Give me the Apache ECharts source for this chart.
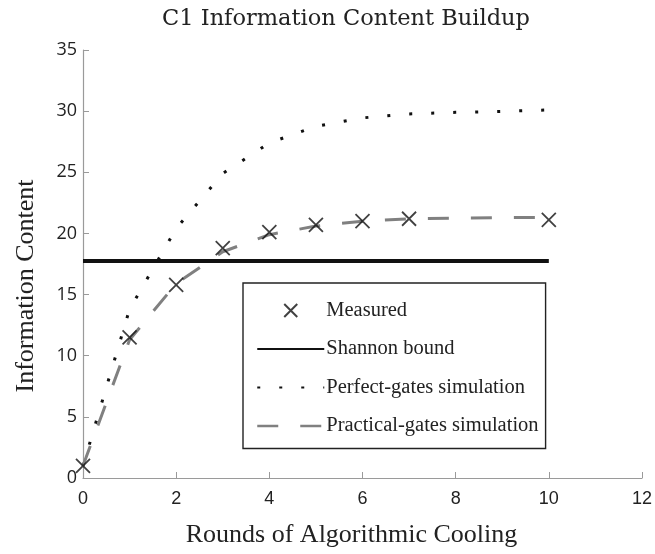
<!DOCTYPE html>
<html>
<head>
<meta charset="utf-8">
<script src="https://cdn.jsdelivr.net/npm/echarts@6/dist/echarts.min.js"></script>
<style>
  html, body { margin: 0; padding: 0; background: #fff; }
  #chart { width: 655px; height: 554px; }
</style>
</head>
<body>
<div id="chart"></div>
<script>
// rounds of algorithmic cooling
var rounds = [0, 1, 2, 3, 4, 5, 6, 7, 8, 9, 10];
var measuredRounds = [0, 1, 2, 3, 4, 5, 6, 7, 10];
var measured = [1.0, 11.5, 15.8, 18.8, 20.1, 20.7, 21.0, 21.2, 21.1];
var shannonRounds = [0, 10];
var shannonBound = 17.75;
var perfectGates = [1.0, 13.8, 20.4, 24.9, 27.4, 28.75, 29.45, 29.77, 29.9, 29.98, 30.1];
var practicalGates = [1.0, 11.3, 15.9, 18.5, 19.9, 20.6, 21.0, 21.2, 21.25, 21.3, 21.3];

function pairs(xs, ys) {
    var out = [];
    for (var i = 0; i < xs.length; i++) {
        out.push([xs[i], ys[i]]);
    }
    return out;
}

var myChart = echarts.init(document.getElementById('chart'));
var serif = 'Liberation Serif';
var axisGray = '#9a9a9a';
var hideSymbol = { opacity: 0 };

var option = {
    backgroundColor: '#ffffff',
    animation: false,
    title: {
        text: 'C1 Information Content Buildup',
        left: 341,
        textAlign: 'center',
        top: 3,
        textStyle: {
            fontFamily: 'DejaVu Serif',
            fontSize: 22.5,
            fontWeight: 'normal',
            color: '#222'
        }
    },
    grid: {
        left: 83,
        right: 12,
        top: 50,
        bottom: 76
    },
    legend: {
        orient: 'vertical',
        left: 243,
        top: 283,
        padding: [17, 7, 12, 13],
        itemGap: 17.5,
        itemWidth: 67,
        itemHeight: 13,
        borderColor: '#222',
        borderWidth: 1.4,
        backgroundColor: '#fff',
        textStyle: {
            fontFamily: serif,
            fontSize: 20.5,
            lineHeight: 20,
            color: '#222',
            padding: [0, 0, 0, -3]
        },
        data: [
            { name: 'Measured' },
            { name: 'Shannon bound', lineStyle: { width: 2 }, itemStyle: hideSymbol },
            { name: 'Perfect-gates simulation', lineStyle: { width: 2 }, itemStyle: hideSymbol },
            { name: 'Practical-gates simulation', lineStyle: { width: 2.5 }, itemStyle: hideSymbol }
        ]
    },
    xAxis: {
        type: 'value',
        min: 0,
        max: 12,
        interval: 2,
        name: 'Rounds of Algorithmic Cooling',
        nameLocation: 'middle',
        nameGap: 44,
        nameTextStyle: { fontFamily: serif, fontSize: 26, color: '#222', padding: [0, 22, 0, 0] },
        axisLine: { lineStyle: { color: axisGray, width: 1.2 } },
        axisTick: { inside: true, length: 6, lineStyle: { color: axisGray } },
        axisLabel: { fontFamily: 'Liberation Sans', fontSize: 18, color: '#222', margin: 12 },
        splitLine: { show: false }
    },
    yAxis: {
        type: 'value',
        min: 0,
        max: 35,
        interval: 5,
        name: 'Information Content',
        nameLocation: 'middle',
        nameGap: 44,
        nameTextStyle: { fontFamily: serif, fontSize: 26, color: '#222', padding: [0, 44, 0, 0] },
        axisLine: { show: true, lineStyle: { color: axisGray, width: 1.2 } },
        axisTick: { show: true, inside: true, length: 6, lineStyle: { color: axisGray } },
        axisLabel: { fontFamily: 'Open Sans', fontSize: 18, color: '#222', margin: 6 },
        splitLine: { show: false }
    },
    series: [
        {
            name: 'Shannon bound',
            type: 'line',
            symbol: 'none',
            color: '#111',
            data: pairs(shannonRounds, [shannonBound, shannonBound]),
            lineStyle: { color: '#111', width: 4 },
            z: 2
        },
        {
            name: 'Perfect-gates simulation',
            type: 'line',
            symbol: 'none',
            color: '#111',
            data: pairs(rounds, perfectGates),
            lineStyle: { color: '#111', width: 3, type: [3, 19], cap: 'butt' },
            z: 3
        },
        {
            name: 'Practical-gates simulation',
            type: 'line',
            symbol: 'none',
            color: '#808080',
            data: pairs(rounds, practicalGates),
            lineStyle: { color: '#808080', width: 3, type: [21, 22], cap: 'butt' },
            z: 3
        },
        {
            name: 'Measured',
            type: 'scatter',
            symbol: 'path://M0,0L10,10M10,0L0,10',
            symbolSize: 14,
            data: pairs(measuredRounds, measured),
            itemStyle: { color: 'none', borderColor: '#111', borderWidth: 1.8 },
            z: 5
        }
    ]
};

myChart.setOption(option);
</script>
</body>
</html>
